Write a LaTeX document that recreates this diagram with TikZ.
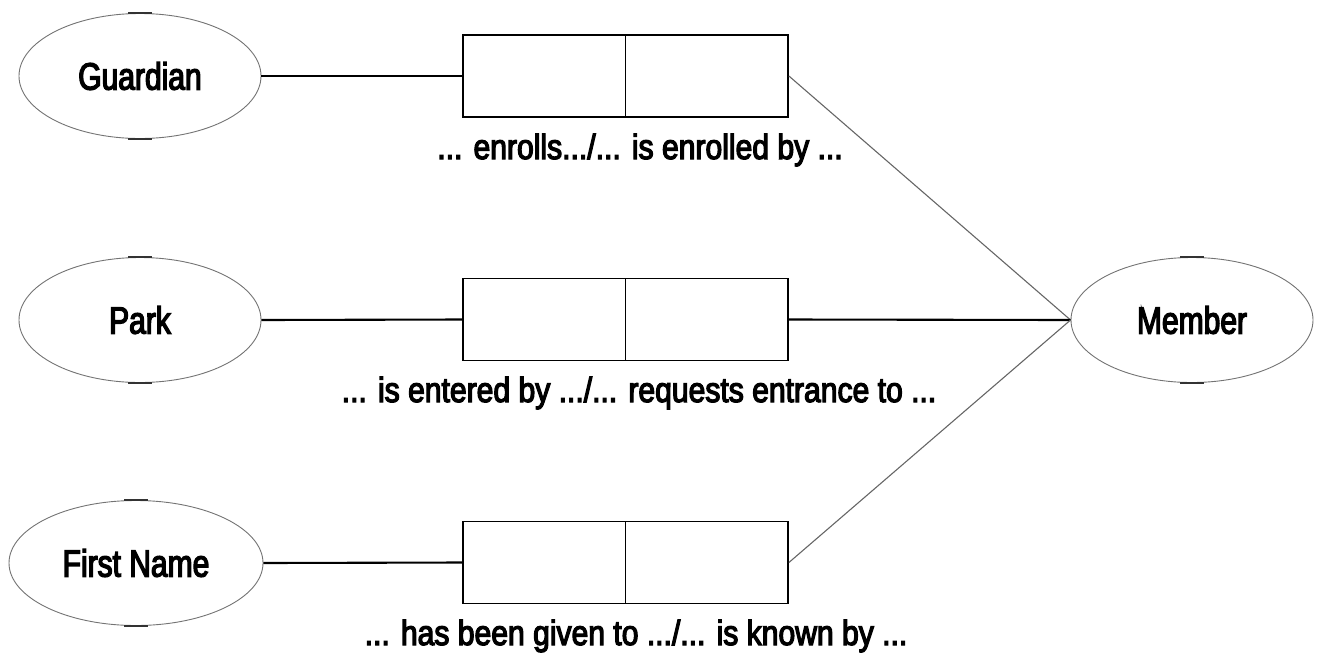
\documentclass[tikz,border=0pt]{standalone}
\usepackage{fontspec}
\setmainfont{Liberation Sans}
\newfontfamily\entfont{Liberation Sans}[FakeStretch=0.79,FakeBold=3.5]
\newfontfamily\relfont{Liberation Sans}[FakeStretch=0.86,FakeBold=3.5]
\usetikzlibrary{shapes.geometric}
\begin{document}
\begin{tikzpicture}[x=1pt,y=-1pt,
  entity/.style={ellipse, draw=black!55, line width=0.9pt,
    minimum width=242pt, minimum height=125pt, inner sep=0pt,
    font=\entfont\fontsize{38}{40}\selectfont},
  rolebox/.style={rectangle, draw=black, line width=1.8pt,
    minimum width=162.5pt, minimum height=82pt, inner sep=0pt},
  reading/.style={font=\relfont\fontsize{35}{38}\selectfont,
    anchor=base, inner sep=0pt},
  link/.style={draw=black, line width=2.1pt},
  spoke/.style={draw=black!60, line width=1.1pt},
  tick/.style={draw=black!80, line width=2.6pt},
]
\useasboundingbox (0,0) rectangle (1318,657);

% object types
\node[entity] (guardian) at (140,76) {Guardian};
\node[entity] (park) at (140,320) {Park};
\node[entity, minimum width=254pt] (firstname) at (136,563) {First Name};
\node[entity] (member) at (1192,320) {Member};

% marks on top and bottom of each ellipse
\foreach \n in {guardian,park,firstname,member}{
  \draw[tick] ([xshift=-12pt]\n.north) -- ([xshift=12pt]\n.north);
  \draw[tick] ([xshift=-12pt]\n.south) -- ([xshift=12pt]\n.south);
}

% fact types: two role boxes each
\node[rolebox] (r1a) at (544.25,76) {};
\node[rolebox] (r1b) at (706.75,76) {};
\node[rolebox] (r2a) at (544.25,319.5) {};
\node[rolebox] (r2b) at (706.75,319.5) {};
\node[rolebox] (r3a) at (544.25,562.5) {};
\node[rolebox] (r3b) at (706.75,562.5) {};

% role connections
\draw[link] (guardian.east) -- (r1a.west);
\draw[link] (park.east) -- (r2a.west);
\draw[link] (firstname.east) -- (r3a.west);
\draw[spoke] (r1b.east) -- (member.west);
\draw[link] (r2b.east) -- (member.west);
\draw[spoke] (r3b.east) -- (member.west);

% readings
\node[reading] (t1) at (640,159) {... enrolls.../... is enrolled by ...};
\node[reading] (t2) at (639,402) {... is entered by .../... requests entrance to ...};
\node[reading] (t3) at (636,645) {... has been given to .../... is known by ...};
\end{tikzpicture}
\end{document}
